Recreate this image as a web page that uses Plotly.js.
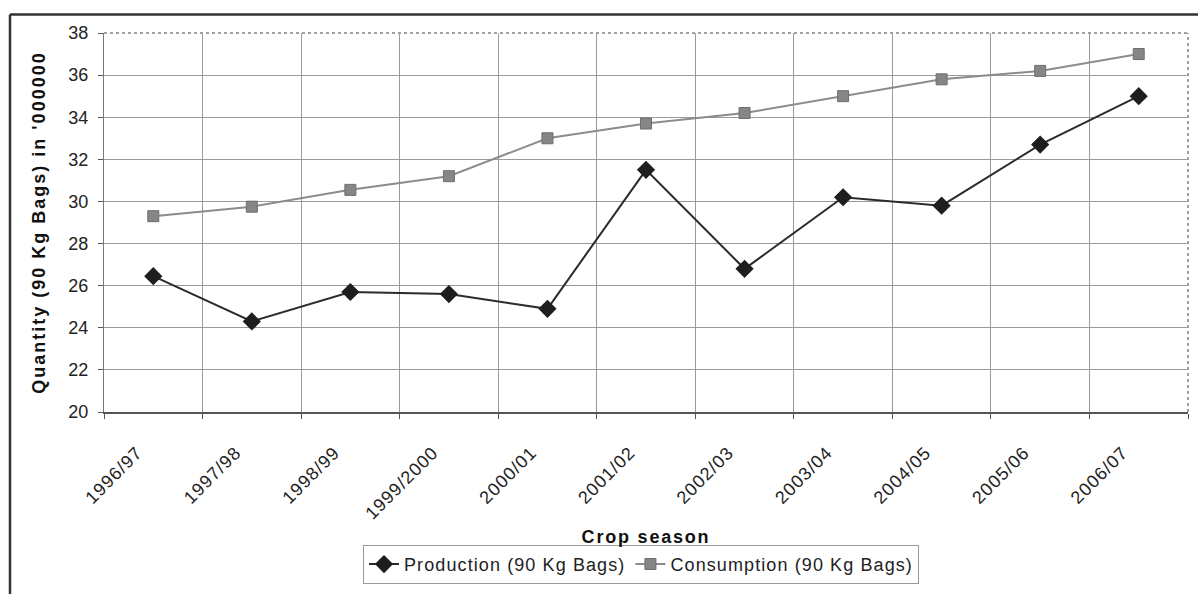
<!DOCTYPE html>
<html>
<head>
<meta charset="utf-8">
<script src="https://cdn.plot.ly/plotly-3.0.1.min.js"></script>
<style>
  html, body { margin: 0; padding: 0; background: #fff; }
  #chart { width: 1198px; height: 594px; }
  .legendtext { letter-spacing: 1.1px; }
  .g-xtitle text { letter-spacing: 1.8px; }
  .g-ytitle text { letter-spacing: 2px; }
  .xtick text { letter-spacing: 1px; }
</style>
</head>
<body>
<div id="chart"></div>
<script>
const seasons = ["1996/97","1997/98","1998/99","1999/2000","2000/01","2001/02","2002/03","2003/04","2004/05","2005/06","2006/07"];
const production = [26.45, 24.3, 25.7, 25.6, 24.9, 31.5, 26.8, 30.2, 29.8, 32.7, 35.0];
const consumption = [29.3, 29.75, 30.55, 31.2, 33.0, 33.7, 34.2, 35.0, 35.8, 36.2, 37.0];
const yTicks = [20, 22, 24, 26, 28, 30, 32, 34, 36, 38];

const M = {l: 104, r: 10, t: 33, b: 173};
const W = 1198, H = 594;
const pw = W - M.l - M.r, ph = H - M.t - M.b;
const px = x => (x - M.l) / pw;
const py = y => (H - M.b - y) / ph;

const font = "Liberation Sans, Arial, sans-serif";

const traces = [
  {
    x: seasons, y: production, name: "Production (90 Kg Bags)",
    type: "scatter", mode: "lines+markers",
    line: {color: "#2b2b2b", width: 2},
    marker: {symbol: "diamond", size: 14, color: "#1e1e1e"}
  },
  {
    x: seasons, y: consumption, name: "Consumption (90 Kg Bags)",
    type: "scatter", mode: "lines+markers",
    line: {color: "#8c8c8c", width: 2},
    marker: {symbol: "square", size: 11, color: "#868686", line: {color: "#6e6e6e", width: 1}}
  }
];

const layout = {
  width: W, height: H,
  margin: M,
  paper_bgcolor: "#ffffff",
  plot_bgcolor: "#ffffff",
  font: {family: font, size: 18, color: "#222"},
  showlegend: true,
  legend: {
    orientation: "h",
    x: px(641), xanchor: "center",
    y: py(557), yanchor: "top",
    bordercolor: "#9a9a9a", borderwidth: 1,
    bgcolor: "#ffffff",
    font: {family: font, size: 18, color: "#222"},
    traceorder: "normal"
  },
  xaxis: {
    type: "category",
    range: [-0.5, seasons.length - 0.5],
    tickson: "boundaries",
    ticks: "outside", ticklen: 5, tickcolor: "#555",
    showgrid: true, gridcolor: "#9a9a9a", gridwidth: 1,
    showline: true, linecolor: "#555", linewidth: 2,
    tickangle: -45,
    ticklabelshift: -16,
    ticklabelstandoff: 21,
    tickfont: {family: font, size: 18, color: "#222"},
    title: {text: "Crop season", font: {family: font, size: 18, color: "#111", weight: "bold"}, standoff: 8},
    automargin: false,
    fixedrange: true
  },
  yaxis: {
    range: [20, 38],
    tickvals: yTicks,
    ticks: "outside", ticklen: 5, tickcolor: "#555",
    showgrid: true, gridcolor: "#9a9a9a", gridwidth: 1,
    showline: true, linecolor: "#777", linewidth: 1,
    zeroline: false,
    ticklabelstandoff: 6,
    tickfont: {family: font, size: 18, color: "#222"},
    title: {text: "Quantity (90 Kg Bags) in '000000", font: {family: font, size: 18, color: "#111", weight: "bold"}, standoff: 18},
    automargin: false,
    fixedrange: true
  },
  shapes: [
    {type: "line", xref: "paper", yref: "paper", x0: 0, x1: 1, y0: 1, y1: 1, line: {color: "#a0a0a0", width: 2, dash: "dot"}},
    {type: "line", xref: "paper", yref: "paper", x0: 1, x1: 1, y0: 0, y1: 1, line: {color: "#a0a0a0", width: 2, dash: "dot"}},
    {type: "line", xref: "paper", yref: "paper", x0: px(10), x1: px(1210), y0: py(14), y1: py(14), line: {color: "#333", width: 2.5}},
    {type: "line", xref: "paper", yref: "paper", x0: px(10), x1: px(10), y0: py(14), y1: py(610), line: {color: "#333", width: 2.5}}
  ]
};

Plotly.newPlot("chart", traces, layout, {displayModeBar: false, staticPlot: true});
</script>
</body>
</html>
